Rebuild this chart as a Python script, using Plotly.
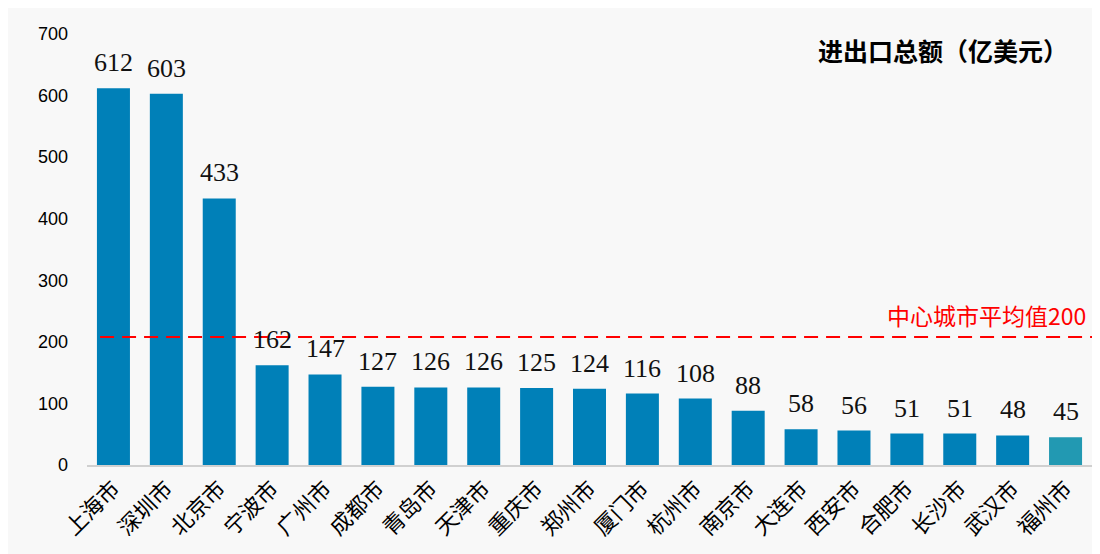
import plotly.graph_objects as go

cities = ["上海市", "深圳市", "北京市", "宁波市", "广州市", "成都市", "青岛市", "天津市", "重庆市",
          "郑州市", "厦门市", "杭州市", "南京市", "大连市", "西安市", "合肥市", "长沙市", "武汉市", "福州市"]
values = [612, 603, 433, 162, 147, 127, 126, 126, 125, 124, 116, 108, 88, 58, 56, 51, 51, 48, 45]
avg_line = 208
avg_label = "中心城市平均值200"
title = "进出口总额（亿美元）"

colors = ["#0080B8"] * (len(cities) - 1) + ["#2299B2"]

fig = go.Figure()
fig.add_trace(go.Bar(
    x=cities, y=values, marker=dict(color=colors, line=dict(width=0)), hoverinfo="x+y",
))
for c, v in zip(cities, values):
    fig.add_annotation(x=c, y=v, text=str(v), showarrow=False, yanchor="bottom", yshift=9,
                       font=dict(family="Liberation Serif", size=26, color="#111111"))
fig.add_shape(type="line", xref="paper", yref="y", x0=0.013, x1=1.03, y0=avg_line, y1=avg_line,
              line=dict(color="#FF0000", width=2, dash="14px,8px"))
fig.add_annotation(xref="paper", yref="y", x=0.996, y=avg_line, xanchor="right", yanchor="bottom",
                   text=avg_label, showarrow=False, yshift=3,
                   font=dict(family="Noto Sans CJK SC", size=23, color="#FF0000"))
fig.add_annotation(xref="paper", yref="paper", x=0.978, y=0.963, xanchor="right", yanchor="middle",
                   text="<b>" + title + "</b>", showarrow=False,
                   font=dict(family="Noto Sans CJK SC", size=25, color="#000000"))
fig.update_layout(
    width=1100, height=554, margin=dict(l=79, r=16, t=26, b=97),
    paper_bgcolor="#F8F8F8", plot_bgcolor="#F8F8F8", showlegend=False, bargap=0.376,
    xaxis=dict(tickangle=-45, tickfont=dict(family="Noto Sans CJK SC", size=22, color="#000"),
               showline=True, linecolor="#D0D0D0", linewidth=2, ticks="", automargin=False),
    yaxis=dict(range=[0, 700], dtick=100, showgrid=False, zeroline=False, automargin=False,
               tickfont=dict(family="Liberation Sans", size=18, color="#000"), ticklabelstandoff=18),
)
fig.write_html("out.html")
